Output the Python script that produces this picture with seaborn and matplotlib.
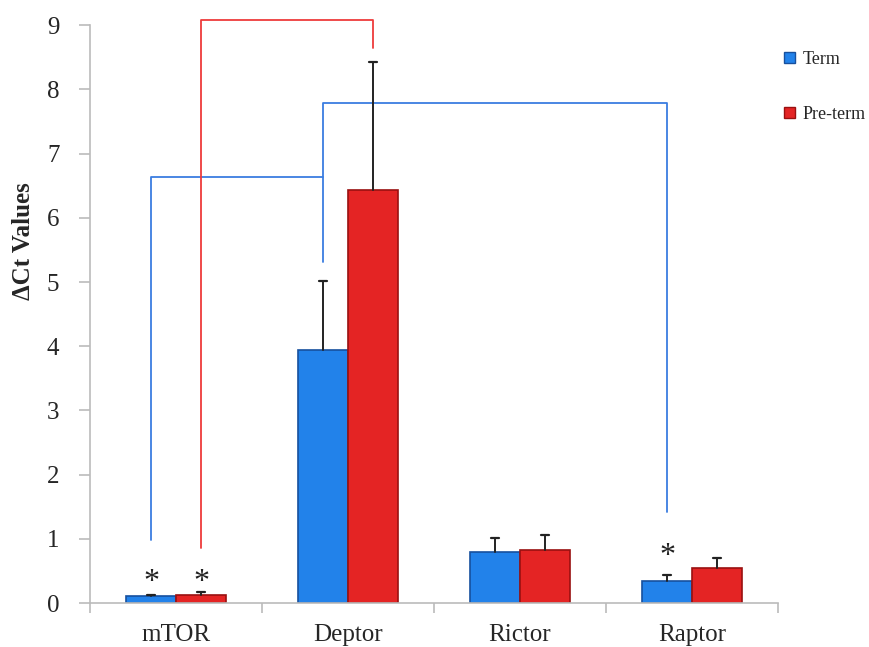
import matplotlib
matplotlib.use("Agg")
import matplotlib.pyplot as plt
import seaborn as sns
import pandas as pd
import numpy as np
from matplotlib.patches import Patch

genes = ["mTOR", "Deptor", "Rictor", "Raptor"]
groups = ["Term", "Pre-term"]
term_vals = [0.11, 3.94, 0.80, 0.34]
term_err = [0.02, 1.08, 0.21, 0.10]
pre_vals = [0.13, 6.44, 0.83, 0.55]
pre_err = [0.04, 1.99, 0.23, 0.15]
yticks = [0, 1, 2, 3, 4, 5, 6, 7, 8, 9]

sns.set_theme(style="white")
plt.rcParams["font.family"] = ["Liberation Serif", "DejaVu Serif"]

df = pd.DataFrame({
    "gene": genes * 2,
    "group": [groups[0]] * 4 + [groups[1]] * 4,
    "value": term_vals + pre_vals,
})

fig = plt.figure(figsize=(8.69, 6.47), dpi=100)
ax = fig.add_axes([0.1036, 0.068, 0.7917, 0.893])

palette = {"Term": "#2282ea", "Pre-term": "#e42424"}
sns.barplot(data=df, x="gene", y="value", hue="group", order=genes,
            hue_order=groups, palette=palette, width=0.58, errorbar=None,
            saturation=1, ax=ax, legend=False)

edges = {"Term": "#17509e", "Pre-term": "#9a1010"}
errs = {"Term": term_err, "Pre-term": pre_err}
vals = {"Term": term_vals, "Pre-term": pre_vals}
centers = {}
for i, p in enumerate(ax.patches[:8]):
    grp = groups[i // 4]
    k = i % 4
    p.set_edgecolor(edges[grp])
    p.set_linewidth(1.2)
    cx = p.get_x() + p.get_width() / 2
    centers[(grp, k)] = cx
    top = vals[grp][k] + errs[grp][k]
    ax.plot([cx, cx], [vals[grp][k], top], color="#222222", lw=1.4, zorder=3)
    ax.plot([cx - 0.022, cx + 0.022], [top, top], color="#222222", lw=1.6, zorder=3)

ax.set_xlim(-0.5, 3.5)
ax.set_ylim(0, 9)
ax.set_yticks(yticks)
ax.set_yticklabels([str(t) for t in yticks], fontsize=18)
ax.set_xticks(range(4))
ax.set_xticklabels(genes, fontsize=18)
ax.tick_params(axis="x", length=0, pad=15)
ax.set_xticks([-0.5, 0.5, 1.5, 2.5, 3.5], minor=True)
ax.tick_params(axis="x", which="minor", length=7, color="#bbbbbb", width=1.2,
               direction="out", bottom=True)
ax.tick_params(axis="y", length=8, color="#bbbbbb", width=1.2, direction="out",
               left=True, pad=14)
ax.set_xlabel("")
ax.set_ylabel("ΔCt Values", fontsize=18, fontweight="bold")
ax.yaxis.set_label_coords(-0.080, 0.626)

for s in ["top", "right"]:
    ax.spines[s].set_visible(False)
for s in ["left", "bottom"]:
    ax.spines[s].set_color("#bbbbbb")
    ax.spines[s].set_linewidth(1.2)

# significance brackets
bl = "#3a7de0"
rd = "#ee3b3b"
t0 = centers[("Term", 0)]
p0 = centers[("Pre-term", 0)]
t1 = centers[("Term", 1)]
p1 = centers[("Pre-term", 1)]
t3 = centers[("Term", 3)]
ax.plot([t0, t0, t1, t1], [0.98, 6.63, 6.63, 5.31], color=bl, lw=1.3, clip_on=False)
ax.plot([t1, t1, t3, t3], [6.63, 7.79, 7.79, 1.42], color=bl, lw=1.3, clip_on=False)
ax.plot([p0, p0, p1, p1], [0.86, 9.08, 9.08, 8.65], color=rd, lw=1.3, clip_on=False)

# stars
for cx, y in [(t0, 0.20), (p0, 0.20), (t3, 0.61)]:
    ax.text(cx, y, "*", ha="center", va="baseline", fontsize=23, color="#222222")

# legend
handles = [Patch(facecolor=palette[g], edgecolor=edges[g]) for g in groups]
fig.legend(handles, groups, loc="upper left", bbox_to_anchor=(0.902, 0.921),
           frameon=False, fontsize=13, handlelength=0.6, handleheight=0.6,
           handletextpad=0.45, labelspacing=2.1, borderpad=0, borderaxespad=0)

fig.savefig("out.png", dpi=100)
